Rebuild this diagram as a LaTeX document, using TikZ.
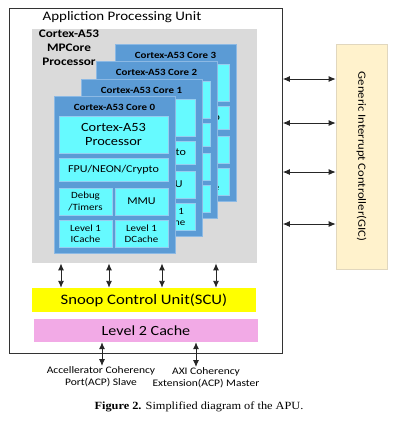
\documentclass[tikz,border=0pt]{standalone}
\usepackage{fontspec}
\setmainfont{Carlito}[FakeStretch=1.15]
\newfontfamily\capfont{Liberation Serif}[FakeStretch=1.12]
\usetikzlibrary{arrows.meta}
\definecolor{coreblue}{RGB}{91,155,213}
\definecolor{coreedge}{RGB}{140,185,228}
\definecolor{unitcyan}{RGB}{102,250,255}
\definecolor{unitedge}{RGB}{150,205,240}
\definecolor{mpgray}{RGB}{218,218,218}
\definecolor{scuyellow}{RGB}{255,255,0}
\definecolor{cachepink}{RGB}{242,170,230}
\definecolor{giccream}{RGB}{255,242,204}
\definecolor{gicedge}{RGB}{225,215,190}
\tikzset{
  blk/.style={inner sep=0pt, align=center},
  core/.style={blk, fill=coreblue, draw=coreedge, line width=0.8pt,
    minimum width=121pt, minimum height=157pt, anchor=north west},
  coretitle/.style={blk, font=\bfseries\fontsize{9.5}{11}\selectfont},
  unit/.style={blk, fill=unitcyan, draw=unitedge, line width=0.8pt,
    font=\fontsize{9.5}{11.5}\selectfont},
  wideunit/.style={unit, minimum width=109pt},
  halfunit/.style={unit, minimum width=53pt, minimum height=27pt},
  biarrow/.style={{Latex[length=7pt,width=6pt]}-{Latex[length=7pt,width=6pt]},
    line width=0.9pt, draw=black!85},
  note/.style={blk, font=\fontsize{10}{12}\selectfont}
}
\begin{document}
\begin{tikzpicture}[x=1pt,y=-1pt]
  \useasboundingbox (0,0) rectangle (400,429);
  % processing unit frame
  \node[blk, draw=black!80, line width=0.8pt, minimum width=273pt, minimum height=345pt,
    anchor=north west] (apu) at (9,8) {};
  \node[blk, font=\fontsize{13}{15}\selectfont] (title) at (122,17) {Appliction Processing Unit};
  \node[blk, fill=mpgray, minimum width=225pt, minimum height=234pt, anchor=north west]
    (mpcore) at (32,29) {};
  \node[blk, font=\bfseries\fontsize{11.5}{14}\selectfont] (mplabel) at (69,48)
    {Cortex-A53\\MPCore\\Processor};
  % cores, back to front
  \begin{scope}[shift={(115,44)}]
    \node[core] (core3) at (0,0) {};
    \node[coretitle] (title3) at (60.5,11) {Cortex-A53 Core 3};
    \node[wideunit, minimum height=37pt, font=\fontsize{12.5}{14}\selectfont] (proc3) at (59.5,38.5) {Cortex-A53\\Processor};
    \node[wideunit, minimum height=23pt, font=\fontsize{10.5}{12}\selectfont] (fpu3) at (59.5,73.5) {FPU/NEON/Crypto};
    \node[halfunit] (dbg3) at (31.5,105.5) {Debug\\/Timers};
    \node[halfunit, font=\fontsize{10.5}{12}\selectfont] (mmu3) at (87.5,105.5) {MMU};
    \node[halfunit] (icache3) at (31.5,137.5) {Level 1\\ICache};
    \node[halfunit] (dcache3) at (87.5,137.5) {Level 1\\DCache};
  \end{scope}
  \begin{scope}[shift={(96,61)}]
    \node[core] (core2) at (0,0) {};
    \node[coretitle] (title2) at (60.5,11) {Cortex-A53 Core 2};
    \node[wideunit, minimum height=37pt, font=\fontsize{12.5}{14}\selectfont] (proc2) at (59.5,38.5) {Cortex-A53\\Processor};
    \node[wideunit, minimum height=23pt, font=\fontsize{10.5}{12}\selectfont] (fpu2) at (59.5,73.5) {FPU/NEON/Crypto};
    \node[halfunit] (dbg2) at (31.5,105.5) {Debug\\/Timers};
    \node[halfunit, font=\fontsize{10.5}{12}\selectfont] (mmu2) at (87.5,105.5) {MMU};
    \node[halfunit] (icache2) at (31.5,137.5) {Level 1\\ICache};
    \node[halfunit] (dcache2) at (87.5,137.5) {Level 1\\DCache};
  \end{scope}
  \begin{scope}[shift={(81,79)}]
    \node[core] (core1) at (0,0) {};
    \node[coretitle] (title1) at (60.5,11) {Cortex-A53 Core 1};
    \node[wideunit, minimum height=37pt, font=\fontsize{12.5}{14}\selectfont] (proc1) at (59.5,38.5) {Cortex-A53\\Processor};
    \node[wideunit, minimum height=23pt, font=\fontsize{10.5}{12}\selectfont] (fpu1) at (59.5,73.5) {FPU/NEON/Crypto};
    \node[halfunit] (dbg1) at (31.5,105.5) {Debug\\/Timers};
    \node[halfunit, font=\fontsize{10.5}{12}\selectfont] (mmu1) at (87.5,105.5) {MMU};
    \node[halfunit] (icache1) at (31.5,137.5) {Level 1\\ICache};
    \node[halfunit] (dcache1) at (87.5,137.5) {Level 1\\DCache};
  \end{scope}
  \begin{scope}[shift={(54,96)}]
    \node[core] (core0) at (0,0) {};
    \node[coretitle] (title0) at (60.5,11) {Cortex-A53 Core 0};
    \node[wideunit, minimum height=37pt, font=\fontsize{12.5}{14}\selectfont] (proc0) at (59.5,38.5) {Cortex-A53\\Processor};
    \node[wideunit, minimum height=23pt, font=\fontsize{10.5}{12}\selectfont] (fpu0) at (59.5,73.5) {FPU/NEON/Crypto};
    \node[halfunit] (dbg0) at (31.5,105.5) {Debug\\/Timers};
    \node[halfunit, font=\fontsize{10.5}{12}\selectfont] (mmu0) at (87.5,105.5) {MMU};
    \node[halfunit] (icache0) at (31.5,137.5) {Level 1\\ICache};
    \node[halfunit] (dcache0) at (87.5,137.5) {Level 1\\DCache};
  \end{scope}
  % shared units
  \node[blk, fill=scuyellow, minimum width=224pt, minimum height=24pt,
    font=\fontsize{14.5}{16}\selectfont] (scu) at (144,300) {Snoop Control Unit(SCU)};
  \node[blk, fill=cachepink, minimum width=224pt, minimum height=23pt,
    font=\fontsize{14}{16}\selectfont] (l2) at (146,330.5) {Level 2 Cache};
  \node[blk, fill=giccream, draw=gicedge, line width=0.6pt, minimum width=51pt,
    minimum height=225pt, font=\fontsize{11}{12}\selectfont] (gic) at (361.5,156.5)
    {\rotatebox{-90}{Generic Interrupt Controller(GIC)}};
  \node[note, anchor=north] (acp) at (101,366) {Accellerator Coherency\\Port(ACP) Slave};
  \node[note, anchor=north] (ace) at (206,367) {AXI Coherency\\Extension(ACP) Master};
  \node[blk, font=\capfont\fontsize{11}{13}\selectfont] (caption) at (199,407)
    {\textbf{Figure 2.} Simplified diagram of the APU.};
  % connectors
  \begin{scope}[biarrow]
    \draw (61,0 |- mpcore.south) -- (61,0 |- scu.north);
    \draw (109,0 |- mpcore.south) -- (109,0 |- scu.north);
    \draw (162,0 |- mpcore.south) -- (162,0 |- scu.north);
    \draw (216,0 |- mpcore.south) -- (216,0 |- scu.north);
    \draw (102,0 |- l2.south) -- (102,0 |- acp.north);
    \draw (196,0 |- l2.south) -- (196,0 |- ace.north);
    \draw (apu.east |- 0,79) -- (gic.west |- 0,79);
    \draw (apu.east |- 0,123) -- (gic.west |- 0,123);
    \draw (apu.east |- 0,172) -- (gic.west |- 0,172);
    \draw (apu.east |- 0,224) -- (gic.west |- 0,224);
  \end{scope}
\end{tikzpicture}
\end{document}
